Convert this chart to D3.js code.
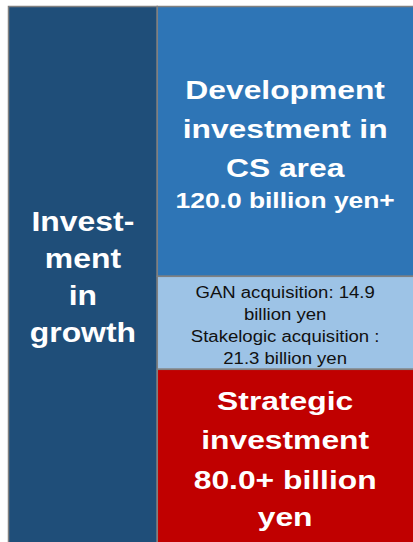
<!DOCTYPE html>
<html>
<head>
<meta charset="utf-8">
<script src="https://cdn.jsdelivr.net/npm/d3@7"></script>
<style>
  html, body { margin: 0; padding: 0; background: #ffffff; }
  svg { display: block; }
  text { font-family: "Liberation Sans", Arial, sans-serif; }
</style>
</head>
<body>
<div id="chart"></div>
<script>
// data
var columns = ["growth", "breakdown"];
var growthShare = [100];
var growthLabel = ["Invest-", "ment", "in", "growth"];

var segmentNames = ["development", "acquisition", "strategic"];
// share of the bar height each block takes in the picture
var segmentShares = [50.2, 17.3, 32.5];
var segmentLabels = [
  ["Development", "investment in", "CS area", "120.0 billion yen+"],
  ["GAN acquisition: 14.9", "billion yen", "Stakelogic acquisition :", "21.3 billion yen"],
  ["Strategic", "investment", "80.0+ billion", "yen"]
];

var svgWidth = 413;
var svgHeight = 542;

var svg = d3.select("#chart")
  .append("svg")
  .attr("width", svgWidth)
  .attr("height", svgHeight);

// colours and text styles for each block
var colors = {
  growth: "#1F4E79",
  development: "#2E75B6",
  acquisition: "#9DC3E6",
  strategic: "#C00000"
};
var textColors = { growth: "#ffffff", development: "#ffffff", acquisition: "#111111", strategic: "#ffffff" };
var lineSizes = {
  growth: [28.5, 28.5, 28.5, 28.5],
  development: [26.5, 26.5, 26.5, 22],
  acquisition: [16, 16, 16, 16],
  strategic: [26.5, 26.5, 26.5, 26.5]
};
var lineSteps = {
  growth: [37, 37, 37],
  development: [39, 39, 31],
  acquisition: [22, 22, 22],
  strategic: [39, 40, 37]
};
var lineWeight = { growth: "bold", development: "bold", acquisition: "normal", strategic: "bold" };
var stretch = { growth: 1.12, development: 1.2, acquisition: 1.16, strategic: 1.2 };

// scales
var xScale = d3.scaleLinear().domain([0, 1]).range([8.5, 415]);
var colEdges = { growth: [0, 0.366], breakdown: [0.366, 1] };
var yScale = d3.scaleLinear().domain([0, 100]).range([6.5, 544]);

// stack the right-hand blocks
var stacked = [];
var acc = 0;
segmentShares.forEach(function(v, i) {
  stacked.push({ name: segmentNames[i], y0: acc, y1: acc + v, lines: segmentLabels[i] });
  acc += v;
});

var blocks = [{ name: "growth", col: columns[0], y0: 0, y1: growthShare[0], lines: growthLabel }]
  .concat(stacked.map(function(d) { d.col = columns[1]; return d; }));

var g = svg.append("g");

g.selectAll("rect")
  .data(blocks)
  .enter()
  .append("rect")
  .attr("x", d => xScale(colEdges[d.col][0]))
  .attr("width", d => xScale(colEdges[d.col][1]) - xScale(colEdges[d.col][0]))
  .attr("y", d => yScale(d.y0))
  .attr("height", d => yScale(d.y1) - yScale(d.y0))
  .attr("fill", d => colors[d.name])
  .attr("stroke", "#808080")
  .attr("stroke-width", 1.5);

// labels, centred in each block
blocks.forEach(function(d) {
  var sizes = lineSizes[d.name];
  var steps = lineSteps[d.name];
  var cx = (xScale(colEdges[d.col][0]) + Math.min(xScale(colEdges[d.col][1]), svgWidth)) / 2;
  var top = yScale(d.y0);
  var bottom = Math.min(yScale(d.y1), svgHeight);
  var cy = (top + bottom) / 2 + 2.5;
  var span = d3.sum(steps);
  var capTop = sizes[0] * 0.716;
  var b0 = cy - (span + capTop) / 2 + capTop;

  var baseline = b0;
  d.lines.forEach(function(line, i) {
    if (i > 0) baseline += steps[i - 1];
    g.append("text")
      .attr("transform", `translate(${cx}, ${baseline}) scale(${stretch[d.name]}, 1)`)
      .attr("text-anchor", "middle")
      .attr("font-size", sizes[i] + "px")
      .attr("font-weight", lineWeight[d.name])
      .attr("fill", textColors[d.name])
      .text(line);
  });
});
</script>
</body>
</html>
